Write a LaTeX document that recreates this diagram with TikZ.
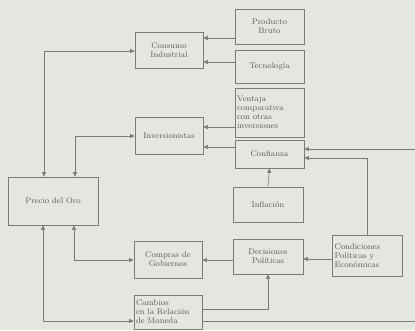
\documentclass[tikz,border=0pt]{standalone}
\usetikzlibrary{arrows.meta}
\definecolor{bg}{HTML}{E3E6E1}
\definecolor{ln}{HTML}{7A7C78}
\definecolor{tx}{HTML}{5A5C58}
\tikzset{
  x=1pt,y=-1pt,
  box/.style={draw=ln,line width=0.7pt,inner sep=1pt,text=tx,font=\fontsize{8.2}{9}\selectfont,align=center},
  lbox/.style={box,align=left},
  arr/.style={draw=ln,line width=0.6pt,-{Triangle[length=4.5pt,width=4pt]}},
  barr/.style={draw=ln,line width=0.6pt,{Triangle[length=4.5pt,width=4pt]}-{Triangle[length=4.5pt,width=4pt]}},
  ln/.style={draw=ln,line width=0.6pt}
}
\begin{document}
\begin{tikzpicture}
\fill[bg] (0,0) rectangle (415,330);
\useasboundingbox (0,0) rectangle (415,330);
\node[box,minimum width=68pt,minimum height=36pt] (cons) at (169,50) {Consumo\\Industrial};
\node[box,minimum width=69pt,minimum height=35pt] (prod) at (269.5,26.5) {Producto\\Bruto};
\node[box,minimum width=69pt,minimum height=33pt] (tec) at (269.5,66.5) {Tecnología};
\node[lbox,minimum width=69pt,minimum height=49pt,text width=65pt] (vent) at (269.5,112.5) {Ventaja\\comparativa\\con otras\\inversiones};
\node[box,minimum width=69pt,minimum height=28pt] (conf) at (269.5,154) {Confianza};
\node[box,minimum width=68pt,minimum height=37pt] (inv) at (169,135.5) {Inversionistas};
\node[box,minimum width=90pt,minimum height=48pt] (precio) at (53,201) {Precio del Oro};
\node[box,minimum width=68pt,minimum height=37pt] (comp) at (168,259.5) {Compras de\\Gobiernos};
\node[lbox,minimum width=68pt,minimum height=34pt,text width=64pt] (camb) at (168,312) {Cambios\\en la Relación\\de Moneda};
\node[box,minimum width=70pt,minimum height=35pt] (infl) at (268,204.5) {Inflación};
\node[box,minimum width=70pt,minimum height=35pt] (dec) at (268,256.5) {Decisiones\\Políticas};
\node[lbox,minimum width=70pt,minimum height=41pt,text width=65pt] (cond) at (367,255.5) {Condiciones\\Políticas y\\Económicas};
\coordinate (edgetop) at (415,149);
\coordinate (edgebot) at (415,321);
% arrows into Consumo / Inversionistas
\draw[arr] (prod.west |- {(0,38)}) -- (cons.east |- {(0,38)});
\draw[arr] (tec.west |- {(0,62)}) -- (cons.east |- {(0,62)});
\draw[arr] (vent.west |- {(0,127)}) -- (inv.east |- {(0,127)});
\draw[arr] (conf.west |- {(0,147)}) -- (inv.east |- {(0,147)});
% into Confianza
\draw[arr] (edgetop) -- (conf.east |- edgetop);
\draw[arr] (cond.north) |- (conf.east |- {(0,158)});
\draw[arr] (infl.north) -- (conf.south);
% decisiones
\draw[arr] (cond.west |- {(0,259)}) -- (dec.east |- {(0,259)});
\draw[arr] (dec.west |- {(0,260)}) -- (comp.east |- {(0,260)});
\draw[arr] (camb.east |- {(0,309)}) -| (dec.south);
\draw[ln] (camb.east |- edgebot) -- (edgebot);
% Precio del Oro links
\draw[barr] (precio.north -| {(44,0)}) |- (cons.west |- {(0,51)});
\draw[barr] (precio.north -| {(75,0)}) |- (inv.west |- {(0,136)});
\draw[barr] (precio.south -| {(74,0)}) |- (comp.west |- {(0,260)});
\draw[barr] (precio.south -| {(43,0)}) |- (camb.west |- {(0,321)});
\end{tikzpicture}
\end{document}
